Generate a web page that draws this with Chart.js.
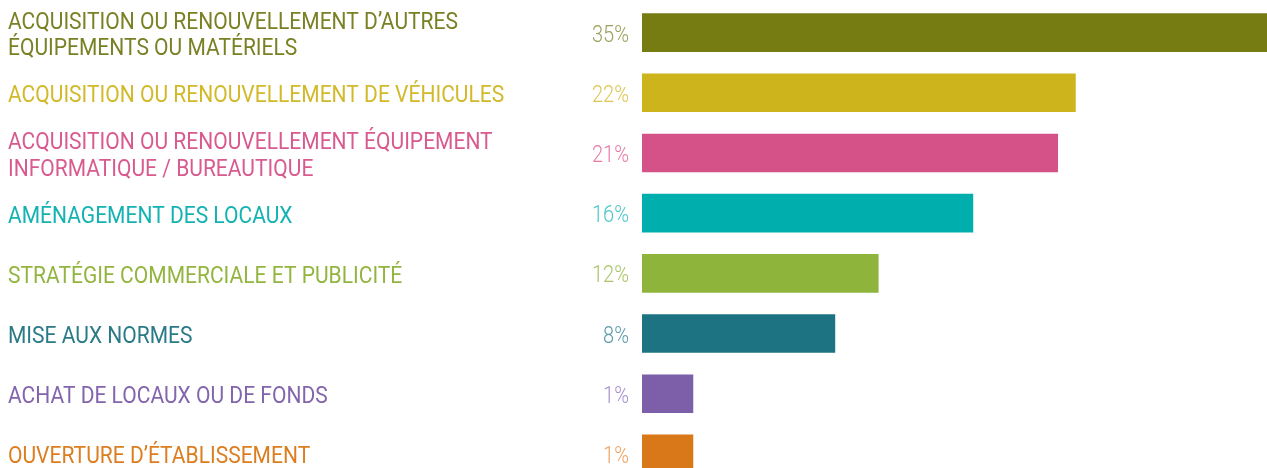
<!DOCTYPE html>
<html>
<head>
<meta charset="utf-8">
<script src="https://cdn.jsdelivr.net/npm/chart.js@4"></script>
<style>
  html, body { margin: 0; padding: 0; background: #fff; overflow: hidden; }
  #wrap { position: relative; width: 1267px; height: 484px; }
</style>
</head>
<body>
<div id="wrap"><canvas id="barres"></canvas></div>
<script>
const categories = [
  ["ACQUISITION OU RENOUVELLEMENT D\u2019AUTRES", "\u00c9QUIPEMENTS OU MAT\u00c9RIELS"],
  ["ACQUISITION OU RENOUVELLEMENT DE V\u00c9HICULES"],
  ["ACQUISITION OU RENOUVELLEMENT \u00c9QUIPEMENT", "INFORMATIQUE / BUREAUTIQUE"],
  ["AM\u00c9NAGEMENT DES LOCAUX"],
  ["STRAT\u00c9GIE COMMERCIALE ET PUBLICIT\u00c9"],
  ["MISE AUX NORMES"],
  ["ACHAT DE LOCAUX OU DE FONDS"],
  ["OUVERTURE D\u2019\u00c9TABLISSEMENT"]
];
const percentLabels = ["35%", "22%", "21%", "16%", "12%", "8%", "1%", "1%"];
// bar lengths as drawn in the picture (first one runs past the edge)
const barLengths = [35, 22, 21.1, 16.8, 12, 9.8, 2.6, 2.6];
const barColors = ["#767c12", "#cdb41c", "#d45288", "#00aeae", "#8fb43b", "#1e7382", "#7c5fa8", "#d97818"];
const labelColors = ["#7a8024", "#d2b92a", "#d85a8f", "#14b2b2", "#93b540", "#2a7a87", "#8265ad", "#dc7d20"];
const percentColors = ["#9ba05a", "#dcc652", "#e87aa8", "#4cc6c6", "#aac46a", "#5c9ca8", "#a88fd0", "#f0a262"];

const FONT = "Roboto, 'Liberation Sans', sans-serif";
const LABEL_FONT = "400 24.5px " + FONT;
const PCT_FONT = "300 23.5px " + FONT;

// condensed look: squeeze text horizontally to the widths seen in the picture
function squeezeFor(ctx, font, text, target) {
  ctx.font = font;
  return target / ctx.measureText(text).width;
}

const labelPlugin = {
  id: "sideLabels",
  afterDatasetsDraw(chart) {
    const ctx = chart.ctx;
    const yScale = chart.scales.y;
    ctx.save();
    const sxLabel = squeezeFor(ctx, LABEL_FONT, categories[0][0], 450);
    const sxPct = squeezeFor(ctx, PCT_FONT, percentLabels[0], 37);
    ctx.textBaseline = "alphabetic";
    categories.forEach((lines, i) => {
      const yc = yScale.getPixelForValue(i);
      ctx.font = LABEL_FONT;
      ctx.textAlign = "left";
      ctx.fillStyle = labelColors[i];
      lines.forEach((line, k) => {
        const y = yc + 9.5 + (k - (lines.length - 1) / 2) * 26.7;
        ctx.save();
        ctx.translate(8, y);
        ctx.scale(sxLabel, 1);
        ctx.fillText(line, 0, 0);
        ctx.restore();
      });
      ctx.font = PCT_FONT;
      ctx.textAlign = "right";
      ctx.fillStyle = percentColors[i];
      ctx.save();
      ctx.translate(chart.chartArea.left - 13, yc + 9);
      ctx.scale(sxPct, 1);
      ctx.fillText(percentLabels[i], 0, 0);
      ctx.restore();
    });
    ctx.restore();
  },
};

new Chart(document.getElementById("barres"), {
  type: "bar",
  data: {
    labels: categories,
    datasets: [
      {
        data: barLengths,
        backgroundColor: barColors,
        borderWidth: 0,
        barPercentage: 0.642,
        categoryPercentage: 1,
      },
    ],
  },
  options: {
    indexAxis: "y",
    responsive: true,
    maintainAspectRatio: false,
    animation: false,
    layout: { padding: { left: 0, top: 2.5, right: 0, bottom: 0 } },
    plugins: {
      legend: { display: false },
      tooltip: { enabled: false },
    },
    scales: {
      x: {
        display: false,
        min: 0,
        max: 31.7,
      },
      y: {
        grid: { display: false, drawTicks: false },
        border: { display: false },
        ticks: { display: false },
        afterFit: (scale) => {
          scale.width = 642;
          scale.paddingTop = 0;
          scale.paddingBottom = 0;
        },
      },
    },
  },
  plugins: [labelPlugin],
});
</script>
</body>
</html>
